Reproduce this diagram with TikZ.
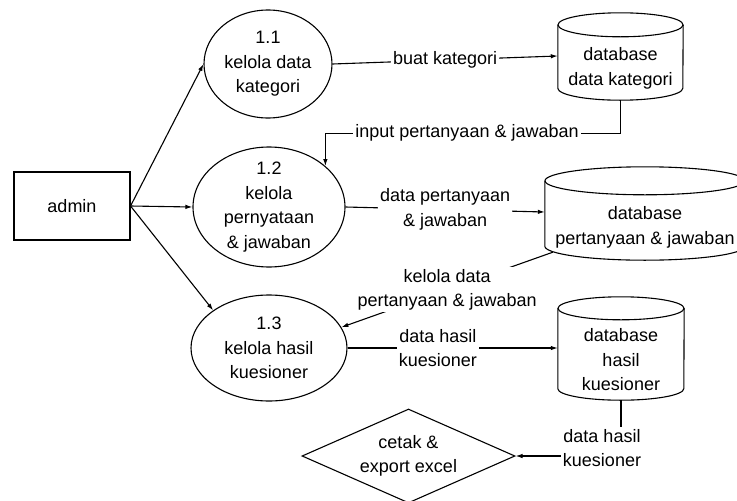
\documentclass[tikz,border=0pt]{standalone}
\usepackage{fontspec}
\setmainfont{Liberation Sans}
\usetikzlibrary{shapes.geometric,arrows.meta,calc}

\tikzset{
  proses/.style={ellipse,draw,line width=1.1pt,align=center,inner sep=-4pt},
  entitas/.style={rectangle,draw,line width=1.1pt,minimum width=116pt,minimum height=68pt},
  gudang/.style={rectangle,align=center,inner sep=0pt},
  keputusan/.style={diamond,draw,line width=1.1pt,align=center,inner sep=0pt,aspect=2.27},
  aliran/.style={line width=1.1pt,-{Latex[length=7pt,width=4.5pt]}},
  ket/.style={fill=white,align=center,inner sep=2pt}
}
% tabung database: nama node, setengah lebar, jari-jari tegak
\newcommand{\tabung}[3]{%
  \draw[line width=1.1pt] ([yshift=#3]#1.north) ellipse[x radius=#2,y radius=#3];
  \draw[line width=1.1pt] ([yshift=#3]#1.north west) -- ([yshift=#3]#1.south west)
    arc[start angle=180,end angle=360,x radius=#2,y radius=#3] -- ([yshift=#3]#1.north east);
}

\begin{document}
\begin{tikzpicture}[x=1pt,y=-1pt,font=\fontsize{18}{24.5}\selectfont]
  \useasboundingbox (0,0) rectangle (737,501);
  %entitas
  \node[entitas] (admin) at (72,206) {admin};
  %proses
  \node[proses,minimum width=128pt,minimum height=108pt] (p11) at (268,64) {1.1\\kelola data\\kategori};
  \node[proses,minimum width=152pt,minimum height=120pt] (p12) at (269,207) {1.2\\kelola\\pernyataan\\\& jawaban};
  \node[proses,minimum width=156pt,minimum height=106pt] (p13) at (269,348) {1.3\\kelola hasil\\kuesioner};
  %database
  \node[gudang,minimum width=125pt,minimum height=63pt] (db1) at (620.5,68.5) {database\\data kategori};
  \tabung{db1}{62.5pt}{12pt}
  \node[gudang,minimum width=200pt,minimum height=65pt] (db2) at (645,227.5) {database\\pertanyaan \& jawaban};
  \tabung{db2}{100pt}{14pt}
  \node[gudang,minimum width=126pt,minimum height=80pt] (db3) at (621,360) {database\\hasil\\kuesioner};
  \tabung{db3}{63pt}{11.5pt}
  %cetak
  \node[keputusan,minimum width=213pt,minimum height=94pt] (cetak) at (408.5,456) {cetak \&\\export excel};
  %aliran data
  \draw[aliran] (admin.east) -- (p11.west);
  \draw[aliran] (admin.east) -- (p12.west);
  \draw[aliran] (admin.east) -- (p13.146);
  \draw[aliran] (p11.east) -- node[ket]{buat kategori} ([yshift=12.5pt]db1.west);
  \coordinate (b1) at ($(db1.south)+(0,33)$);
  \coordinate (b2) at (p12.36 |- b1);
  \draw[aliran] (db1.south) -- (b1) -- node[ket,pos=0.52]{input pertanyaan \& jawaban} (b2) -- (p12.36);
  \draw[aliran] (p12.east) -- node[ket]{data pertanyaan\\\& jawaban} ([yshift=15.5pt]db2.west);
  \coordinate (a2) at ([shift={(8,-8)}]db2.south west);
  \draw[aliran] (a2) -- node[ket]{kelola data\\pertanyaan \& jawaban} (p13.16);
  \draw[aliran] (p13.east) -- node[ket,pos=0.43]{data hasil\\kuesioner} ([yshift=12pt]db3.west);
  \draw[aliran] (db3.south) |- node[ket,pos=0.5,xshift=-19pt,yshift=8pt]{data hasil\\kuesioner} (cetak.east);
\end{tikzpicture}
\end{document}
